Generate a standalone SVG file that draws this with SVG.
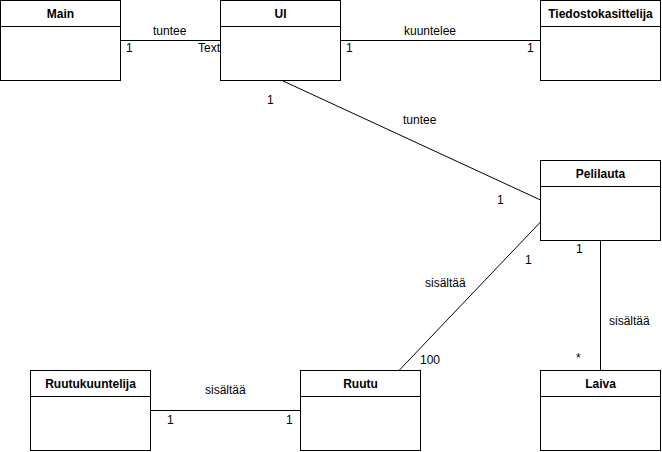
<svg xmlns="http://www.w3.org/2000/svg" width="662" height="452" viewBox="0 0 662 452">
<style>
.box{fill:#fff;stroke:#000;stroke-width:1}
.sep{stroke:#000;stroke-width:1}
.title{font-family:"Liberation Sans",Arial,sans-serif;font-size:12px;font-weight:bold;text-anchor:middle;fill:#000}
.lbl{font-family:"Liberation Sans",Arial,sans-serif;font-size:12px;fill:#000}
.conn{stroke:#000;stroke-width:1;fill:none}
</style>
<rect width="662" height="452" fill="#fff"/>
<g id="connectors">
<line class="conn" x1="120.5" y1="40.5" x2="220.5" y2="40.5"/>
<line class="conn" x1="340.5" y1="40.5" x2="540.5" y2="40.5"/>
<line class="conn" x1="282" y1="80.5" x2="540.5" y2="200"/>
<line class="conn" x1="540.5" y1="222" x2="399" y2="370.5"/>
<line class="conn" x1="600.5" y1="240.5" x2="600.5" y2="370.5"/>
<line class="conn" x1="150.5" y1="410.5" x2="300.5" y2="410.5"/>
<text class="lbl" x="153" y="35">tuntee</text>
<text class="lbl" x="126" y="52">1</text>
<text class="lbl" x="198" y="52">Text</text>
<text class="lbl" x="404" y="35">kuuntelee</text>
<text class="lbl" x="346" y="52">1</text>
<text class="lbl" x="527" y="52">1</text>
<text class="lbl" x="267" y="104">1</text>
<text class="lbl" x="403" y="124">tuntee</text>
<text class="lbl" x="497" y="204">1</text>
<text class="lbl" x="525" y="264">1</text>
<text class="lbl" x="425" y="287">sisältää</text>
<text class="lbl" x="420" y="364">100</text>
<text class="lbl" x="576" y="253">1</text>
<text class="lbl" x="609" y="325">sisältää</text>
<text class="lbl" x="576" y="362">*</text>
<text class="lbl" x="205" y="394">sisältää</text>
<text class="lbl" x="167" y="424">1</text>
<text class="lbl" x="286" y="424">1</text>
</g>
<g id="Main">
<rect class="box" x="0.5" y="0.5" width="120" height="80"/>
<line class="sep" x1="0.5" y1="26.5" x2="120.5" y2="26.5"/>
<text class="title" x="60.5" y="18">Main</text>
</g>
<g id="UI">
<rect class="box" x="220.5" y="0.5" width="120" height="80"/>
<line class="sep" x1="220.5" y1="26.5" x2="340.5" y2="26.5"/>
<text class="title" x="280.5" y="18">UI</text>
</g>
<g id="Tiedostokasittelija">
<rect class="box" x="540.5" y="0.5" width="120" height="80"/>
<line class="sep" x1="540.5" y1="26.5" x2="660.5" y2="26.5"/>
<text class="title" x="600.5" y="18">Tiedostokasittelija</text>
</g>
<g id="Pelilauta">
<rect class="box" x="540.5" y="160.5" width="120" height="80"/>
<line class="sep" x1="540.5" y1="186.5" x2="660.5" y2="186.5"/>
<text class="title" x="600.5" y="178">Pelilauta</text>
</g>
<g id="Ruutukuuntelija">
<rect class="box" x="30.5" y="370.5" width="120" height="80"/>
<line class="sep" x1="30.5" y1="396.5" x2="150.5" y2="396.5"/>
<text class="title" x="90.5" y="388">Ruutukuuntelija</text>
</g>
<g id="Ruutu">
<rect class="box" x="300.5" y="370.5" width="120" height="80"/>
<line class="sep" x1="300.5" y1="396.5" x2="420.5" y2="396.5"/>
<text class="title" x="360.5" y="388">Ruutu</text>
</g>
<g id="Laiva">
<rect class="box" x="540.5" y="370.5" width="120" height="80"/>
<line class="sep" x1="540.5" y1="396.5" x2="660.5" y2="396.5"/>
<text class="title" x="600.5" y="388">Laiva</text>
</g>
</svg>
